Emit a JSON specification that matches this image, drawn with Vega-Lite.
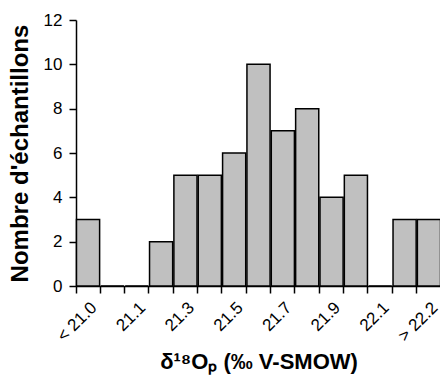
{
  "$schema": "https://vega.github.io/schema/vega-lite/v6.json",
  "width": 365,
  "height": 266,
  "autosize": "none",
  "padding": {"left": 76, "top": 20, "right": 0, "bottom": 99},
  "background": "white",
  "config": {
    "view": {"stroke": null},
    "font": "Liberation Sans",
    "axis": {
      "grid": false,
      "domainColor": "black",
      "tickColor": "black",
      "labelColor": "black",
      "titleColor": "black",
      "domainWidth": 1.5,
      "tickWidth": 1.5,
      "tickSize": 7
    }
  },
  "data": {
    "values": [
      {"bin": "< 21.0", "count": 3},
      {"bin": "21.0", "count": 0},
      {"bin": "21.1", "count": 0},
      {"bin": "21.2", "count": 2},
      {"bin": "21.3", "count": 5},
      {"bin": "21.4", "count": 5},
      {"bin": "21.5", "count": 6},
      {"bin": "21.6", "count": 10},
      {"bin": "21.7", "count": 7},
      {"bin": "21.8", "count": 8},
      {"bin": "21.9", "count": 4},
      {"bin": "22.0", "count": 5},
      {"bin": "22.1", "count": 0},
      {"bin": "22.2", "count": 3},
      {"bin": "> 22.2", "count": 3}
    ]
  },
  "mark": {"type": "bar", "fill": "#c0c0c0", "stroke": "black", "strokeWidth": 1.5},
  "encoding": {
    "x": {
      "field": "bin",
      "type": "ordinal",
      "sort": null,
      "scale": {"paddingInner": 0.05, "paddingOuter": 0.02},
      "axis": {
        "title": "δ¹⁸Oₚ (‰ V-SMOW)",
        "labelAngle": -45,
        "tickBand": "extent",
        "labelExpr": "indexof(['< 21.0','21.1','21.3','21.5','21.7','21.9','22.1','> 22.2'], datum.value) >= 0 ? datum.value : ''",
        "labelFontSize": 17,
        "labelPadding": 6,
        "titleFontSize": 22,
        "titleFontWeight": "bold",
        "titlePadding": 7
      }
    },
    "y": {
      "field": "count",
      "type": "quantitative",
      "scale": {"domain": [0, 12]},
      "axis": {
        "values": [0, 2, 4, 6, 8, 10, 12],
        "title": "Nombre d'échantillons",
        "titleFontSize": 24,
        "titleFontWeight": "bold",
        "titlePadding": 11,
        "labelFontSize": 17,
        "labelPadding": 7
      }
    }
  }
}
